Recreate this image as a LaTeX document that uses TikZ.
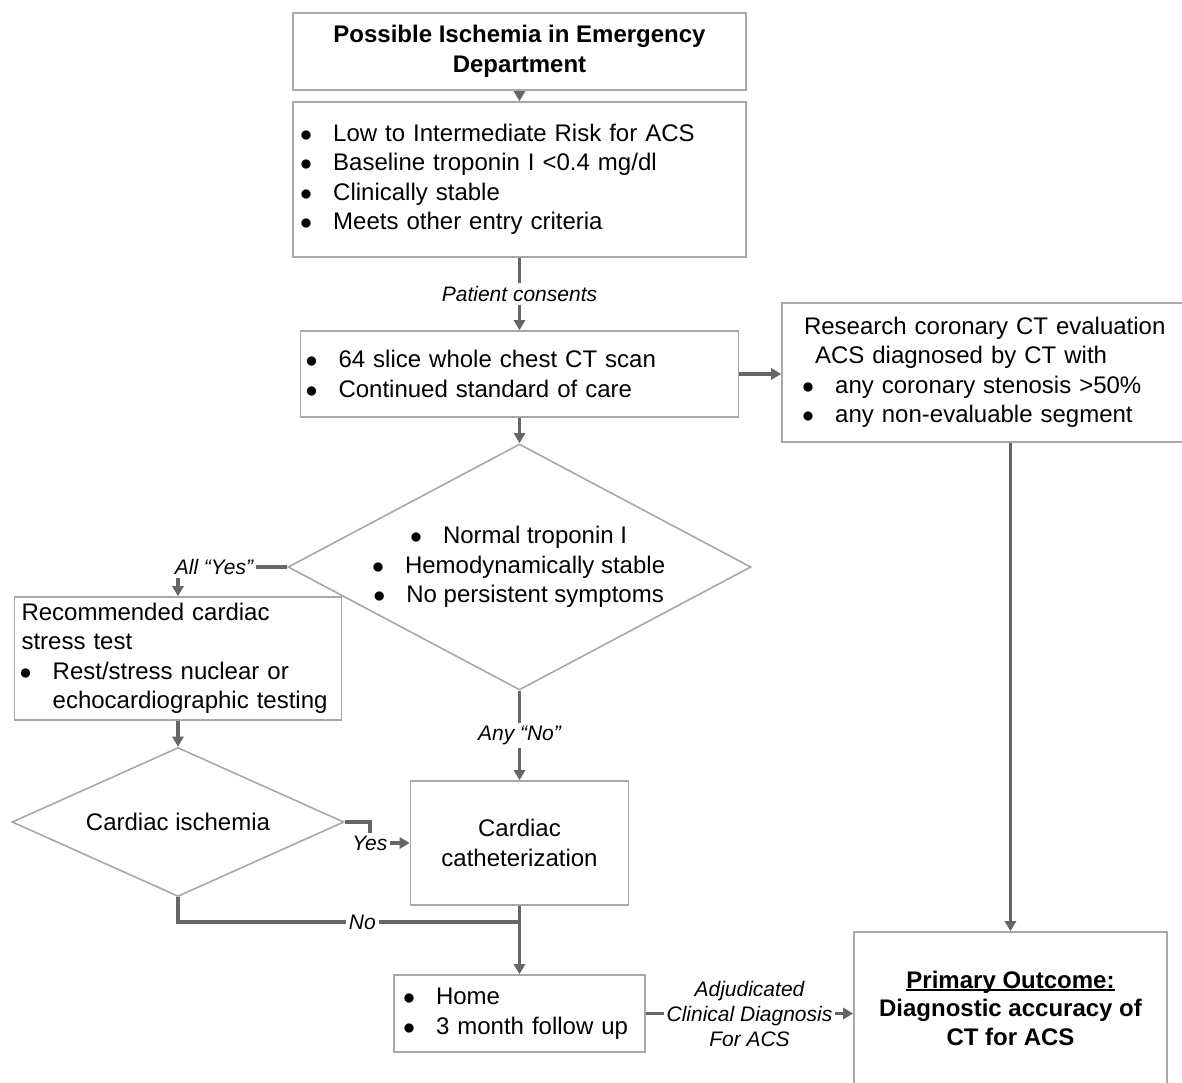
\documentclass[tikz,border=0pt]{standalone}
\usepackage{fontspec}
\setmainfont{Liberation Sans}
\usepackage{tikz}
\usetikzlibrary{arrows.meta,shapes,calc,positioning}
\definecolor{edgegray}{HTML}{A8A8A8}
\definecolor{linegray}{HTML}{666666}
\newcommand{\bulit}{\makebox[15.6pt][l]{\hspace{-0.9pt}$\bullet$}}
\newsavebox{\ulinebox}
\newcommand{\ulin}[1]{\sbox{\ulinebox}{#1}\rlap{\rule[-1.6pt]{\wd\ulinebox}{0.9pt}}\usebox{\ulinebox}}

\begin{document}
\begin{tikzpicture}[x=0.5pt, y=-0.5pt,
  box/.style={rectangle, draw=edgegray, line width=0.8pt, inner ysep=0pt, font=\fontsize{12}{14.75}\selectfont},
  dbox/.style={diamond, draw=edgegray, line width=0.8pt, inner sep=0pt, font=\fontsize{12}{14.75}\selectfont},
  flow/.style={draw=linegray, line width=1.7pt, ->},
  lbl/.style={fill=white, inner sep=1.5pt, font=\fontsize{10.5}{12.5}\selectfont\itshape},
  >={Triangle[length=5pt,width=5.5pt]}]
  \useasboundingbox (0,0) rectangle (1182,1082);

  \node[box, align=center, font=\fontsize{12}{14.75}\selectfont\bfseries, minimum width=226.5pt, minimum height=38.5pt] (ed) at (519.5,51.5) {Possible Ischemia in Emergency\\Department};
  \node[box, align=left, text width=217.5pt, inner xsep=4.5pt, minimum height=77.5pt] (entry) at (519.5,179.5)
    {\bulit Low to Intermediate Risk for ACS\\ \bulit Baseline troponin I <0.4 mg/dl\\ \bulit Clinically stable\\ \bulit Meets other entry criteria};
  \node[box, align=left, text width=212.2pt, inner xsep=3.4pt, minimum height=43pt] (scan) at (519.5,374)
    {\bulit 64 slice whole chest CT scan\\ \bulit Continued standard of care};
  \node[box, align=left, text width=184pt, inner xsep=11pt, minimum height=69.5pt] (research) at (988,372.5)
    {Research coronary CT evaluation\\ \hspace*{5.5pt}ACS diagnosed by CT with\\ \bulit any coronary stenosis >50\%\\ \bulit any non-evaluable segment};
  \node[dbox, aspect=1.88, align=center, minimum width=231.5pt, minimum height=123pt] (dia) at (519.5,567)
    {\bulit Normal troponin I\\ \bulit Hemodynamically stable\\ \bulit No persistent symptoms};
  \node[box, align=left, text width=156.5pt, inner xsep=3.5pt, minimum height=61.5pt] (stress) at (178,658.5)
    {Recommended cardiac\\stress test\\ \bulit Rest/stress nuclear or\\ \hspace*{15.6pt}echocardiographic testing};
  \node[dbox, aspect=2.23, minimum width=166pt, minimum height=74.5pt] (isch) at (178,822) {Cardiac ischemia};
  \node[box, align=center, minimum width=109pt, minimum height=62pt] (cath) at (519.5,843) {Cardiac\\catheterization};
  \node[box, align=left, text width=114.7pt, inner xsep=5.4pt, minimum height=38.5pt] (home) at (519.5,1013.5)
    {\bulit Home\\ \bulit 3 month follow up};
  \node[box, align=center, font=\fontsize{12}{14.25}\selectfont\bfseries, minimum width=156.5pt, minimum height=76pt] (primary) at (1010.5,1008)
    {\ulin{Primary Outcome:}\\Diagnostic accuracy of\\CT for ACS};
  \coordinate (join) at (519.5,922);

  \draw[flow] (ed) -- (entry);
  \draw[flow] (entry) -- node[lbl] {Patient consents} (scan);
  \draw[flow] (scan.east) -- (scan.east -| research.west);
  \draw[flow] (scan) -- (dia);
  \draw[flow] (dia.west) -| node[lbl, pos=0.135, anchor=east] {All “Yes”} (stress.north);
  \draw[flow] (dia) -- node[lbl] {Any “No”} (cath);
  \draw[flow] (stress) -- (isch);
  \draw[flow] (isch.east) -- ++(25,0) |- node[lbl] {Yes} (cath.west);
  \draw[draw=linegray, line width=1.7pt] (isch.south) |- node[lbl, pos=0.77] {No} (join);
  \draw[flow] (cath) -- (home);
  \draw[flow] (home.east) -- node[lbl, align=center] {Adjudicated\\Clinical Diagnosis\\For ACS} (home.east -| primary.west);
  \draw[flow] (research.south -| primary.north) -- (primary.north);

\end{tikzpicture}
\end{document}
